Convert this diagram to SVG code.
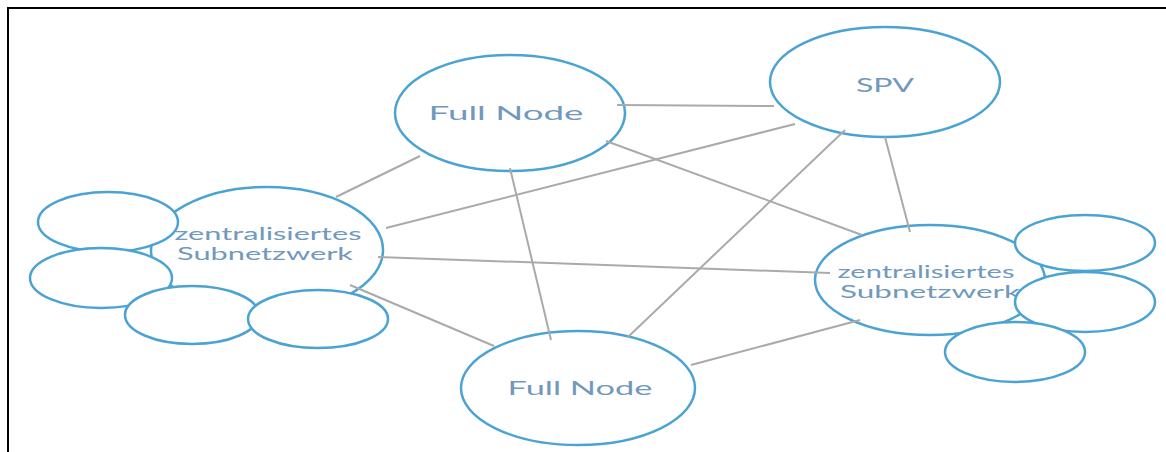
<svg xmlns="http://www.w3.org/2000/svg" width="1166" height="452" viewBox="0 0 1166 452">
<style>
.n{fill:#fff;stroke:#4aa3d3;stroke-width:2.5}
.t{font-family:Lato,"Liberation Sans",sans-serif;font-size:20px;fill:#7199bd;text-anchor:middle}
.s{font-size:16.5px}
.c line{stroke:#aaaaaa;stroke-width:2}
</style>
<rect x="0" y="0" width="1166" height="452" fill="#fff"/>
<rect x="8" y="8" width="1170" height="460" fill="none" stroke="#000" stroke-width="2"/>
<g id="fullnode-top"><ellipse class="n" cx="510" cy="113" rx="115" ry="58"/><text class="t" x="506" y="120" textLength="155" lengthAdjust="spacingAndGlyphs">Full Node</text></g>
<g id="spv"><ellipse class="n" cx="885" cy="82" rx="115" ry="55"/><text class="t" x="885" y="92" textLength="58" lengthAdjust="spacingAndGlyphs">SPV</text></g>
<g id="fullnode-bottom"><ellipse class="n" cx="578" cy="388" rx="117" ry="57"/><text class="t" x="580" y="395" textLength="145" lengthAdjust="spacingAndGlyphs">Full Node</text></g>
<g id="subnet-left"><ellipse class="n" cx="267" cy="250" rx="116" ry="63"/><text class="t s" x="268" y="240" textLength="187" lengthAdjust="spacingAndGlyphs">zentralisiertes</text><text class="t s" x="265" y="260" textLength="176" lengthAdjust="spacingAndGlyphs">Subnetzwerk</text></g>
<g id="subnet-right"><ellipse class="n" cx="930" cy="280" rx="115" ry="55"/><text class="t s" x="926" y="278" textLength="177" lengthAdjust="spacingAndGlyphs">zentralisiertes</text><text class="t s" x="930" y="298" textLength="180" lengthAdjust="spacingAndGlyphs">Subnetzwerk</text></g>
<g id="left-small-1"><ellipse class="n" cx="108" cy="222" rx="70" ry="30"/></g>
<g id="left-small-2"><ellipse class="n" cx="101" cy="278" rx="71" ry="30"/></g>
<g id="left-small-3"><ellipse class="n" cx="192" cy="315" rx="67" ry="29"/></g>
<g id="left-small-4"><ellipse class="n" cx="318" cy="319" rx="70" ry="29"/></g>
<g id="right-small-1"><ellipse class="n" cx="1085" cy="243" rx="70" ry="28"/></g>
<g id="right-small-2"><ellipse class="n" cx="1085" cy="302" rx="70" ry="30"/></g>
<g id="right-small-3"><ellipse class="n" cx="1015" cy="352" rx="70" ry="30"/></g>
<g class="c" id="connectors">
<line x1="617" y1="105" x2="774" y2="106"/>
<line x1="420" y1="156" x2="336" y2="197"/>
<line x1="795" y1="124" x2="386" y2="228"/>
<line x1="606" y1="141" x2="862" y2="235"/>
<line x1="510" y1="168" x2="551" y2="340"/>
<line x1="845" y1="130" x2="628" y2="337"/>
<line x1="885" y1="137" x2="910" y2="232"/>
<line x1="378" y1="257" x2="830" y2="273"/>
<line x1="350" y1="285" x2="494" y2="346"/>
<line x1="691" y1="365" x2="860" y2="320"/>
</g>
</svg>
